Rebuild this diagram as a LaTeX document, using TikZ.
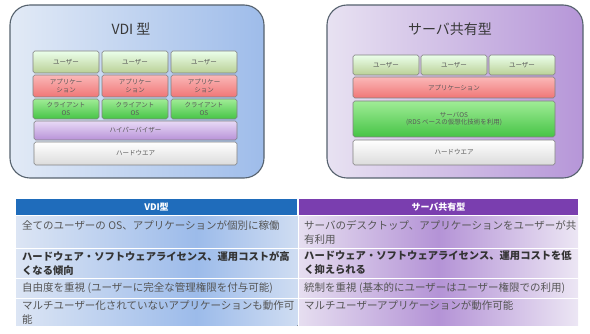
\documentclass[tikz,border=0pt]{standalone}
\usepackage{fontspec}
\setmainfont{Noto Sans CJK JP}
\usetikzlibrary{positioning}

\definecolor{vdipanelL}{HTML}{E2EAF6}
\definecolor{vdipanelR}{HTML}{9EBCEA}
\definecolor{srvpanelL}{HTML}{E8E2F2}
\definecolor{srvpanelR}{HTML}{B696D8}
\definecolor{panelline}{HTML}{56626E}
\definecolor{vdihead}{HTML}{1F6CBB}
\definecolor{srvhead}{HTML}{7A3EAF}
\definecolor{vdilight}{HTML}{DCE5F4}
\definecolor{vdidark}{HTML}{9CBBEA}
\definecolor{vdiend}{HTML}{CFDDF2}
\definecolor{srvlight}{HTML}{E6DEF0}
\definecolor{srvdark}{HTML}{B493D6}
\definecolor{srvend}{HTML}{ECE6F4}
\definecolor{celltext}{HTML}{555555}

% column shadings: 25bp = left edge, 75bp = right edge
\pgfdeclarehorizontalshading{vdicol}{100bp}{color(0bp)=(vdilight); color(25bp)=(vdilight);
  color(57bp)=(vdidark); color(75bp)=(vdiend); color(100bp)=(vdiend)}
\pgfdeclarehorizontalshading{srvcol}{100bp}{color(0bp)=(srvlight); color(25bp)=(srvlight);
  color(50bp)=(srvdark); color(75bp)=(srvend); color(100bp)=(srvend)}

\tikzset{
  panel/.style={draw=panelline, line width=1.1pt, rounded corners=20pt},
  paneltitle/.style={font=\fontsize{14}{16}\selectfont, text=black!78},
  layer/.style={draw=black!50, line width=0.6pt, rounded corners=1.8pt, inner sep=0pt,
    align=center, text=black!65, font=\fontsize{6.5}{7.8}\selectfont},
  userbox/.style={layer, top color=green!8!white, bottom color={rgb,255:red,186;green,208;blue,150}},
  appbox/.style={layer, top color={rgb,255:red,250;green,184;blue,184}, bottom color={rgb,255:red,240;green,118;blue,118}},
  osbox/.style={layer, top color={rgb,255:red,160;green,236;blue,150}, bottom color={rgb,255:red,70;green,196;blue,70}},
  hyperbox/.style={layer, top color={rgb,255:red,232;green,218;blue,246}, bottom color={rgb,255:red,184;green,146;blue,216}},
  hwbox/.style={layer, top color=white, bottom color=black!14},
  headcell/.style={inner sep=0pt, text=white, font=\fontsize{9}{10}\selectfont\bfseries},
  celltxt/.style={anchor=west, align=left, inner sep=0pt, text=celltext,
    font=\fontsize{10.5}{14}\selectfont},
  cellbold/.style={celltxt, text=black!80, font=\fontsize{10.3}{14}\selectfont\bfseries}
}

\begin{document}
\begin{tikzpicture}[x=1pt,y=-1pt]
  \useasboundingbox (0,0) rectangle (590,334);

  % --- VDI panel ---
  \node[panel, left color=vdipanelL, right color=vdipanelR,
    minimum width=254, minimum height=173] (vdipanel) at (137,91.5) {};
  \node[paneltitle] (vdititle) at (131,29) {VDI 型};
  \foreach \cx [count=\i] in {66,135,204} {
    \node[userbox, minimum width=66, minimum height=22] (vdiuser\i) at (\cx,62) {ユーザー};
    \node[appbox, minimum width=66, minimum height=22] (vdiapp\i) at (\cx,86) {アプリケー\\ション};
    \node[osbox, minimum width=66, minimum height=20] (vdios\i) at (\cx,109) {クライアント\\OS};
  }
  \node[hyperbox, minimum width=203, minimum height=19] (vdihyper) at (135.5,130.5) {ハイパーバイザー};
  \node[hwbox, minimum width=203, minimum height=23] (vdihw) at (135.5,153.5) {ハードウエア};

  % --- server-shared panel ---
  \node[panel, left color=srvpanelL, right color=srvpanelR,
    minimum width=256, minimum height=173] (srvpanel) at (455,91.5) {};
  \node[paneltitle] (srvtitle) at (450,29) {サーバ共有型};
  \foreach \cx [count=\i] in {386,454,522} {
    \node[userbox, minimum width=66, minimum height=20] (srvuser\i) at (\cx,65) {ユーザー};
  }
  \node[appbox, minimum width=202, minimum height=21] (srvapp) at (454,87.5) {アプリケーション};
  \node[osbox, minimum width=202, minimum height=36] (srvos) at (454,119) {サーバOS\\(RDS ベースの仮想化技術を利用)};
  \node[hwbox, minimum width=202, minimum height=25] (srvhw) at (454,152.5) {ハードウエア};

  % --- table ---
  \node[headcell, fill=vdihead, minimum width=281, minimum height=16] (vdihd) at (156.5,207) {VDI型};
  \node[headcell, fill=srvhead, minimum width=279, minimum height=16] (srvhd) at (438.5,207) {サーバ共有型};
  \fill[shading=vdicol] (16,216) rectangle (297.5,326);
  \fill[shading=srvcol] (298.5,216) rectangle (578,326);
  % row separators
  \foreach \ry in {216,248.5,279,298.5}
    \draw[white, line width=1pt] (16,\ry) -- (578,\ry);
  \draw[white, line width=1pt] (298,199) -- (298,326);

  % left column texts
  \node[celltxt]  (vdir1) at (22,226) {全てのユーザーの OS、アプリケーションが個別に稼働};
  \node[cellbold] (vdir2) at (22,263) {ハードウェア・ソフトウェアライセンス、運用コストが高\\くなる傾向};
  \node[celltxt]  (vdir3) at (22,288.5) {自由度を重視 (ユーザーに完全な管理権限を付与可能)};
  \node[celltxt]  (vdir4) at (22,313) {マルチユーザー化されていないアプリケーションも動作可\\能};
  % right column texts
  \node[celltxt]  (srvr1) at (304,232) {サーバのデスクトップ、アプリケーションをユーザーが共\\有利用};
  \node[cellbold] (srvr2) at (304,263) {ハードウェア・ソフトウェアライセンス、運用コストを低\\く抑えられる};
  \node[celltxt]  (srvr3) at (304,288.5) {統制を重視 (基本的にユーザーはユーザー権限での利用)};
  \node[celltxt]  (srvr4) at (304,306) {マルチユーザーアプリケーションが動作可能};
\end{tikzpicture}
\end{document}
